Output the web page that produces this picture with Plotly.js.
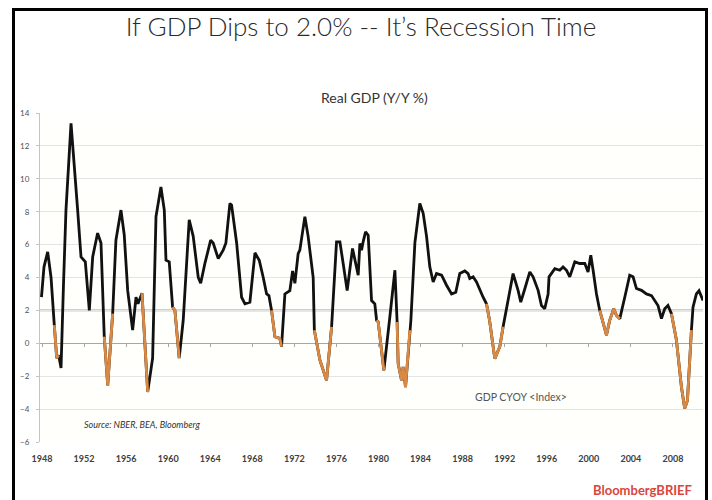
<!DOCTYPE html>
<html>
<head>
<meta charset="utf-8">
<script src="https://cdn.plot.ly/plotly-3.0.1.min.js"></script>
<style>
  html, body { margin: 0; padding: 0; background: #ffffff; }
  #wrap { position: relative; width: 712px; height: 500px; overflow: hidden; }
  #chart { position: absolute; left: 0; top: 0; width: 712px; height: 500px; }
  #frame { position: absolute; left: 12px; top: 8px; width: 696px; height: 600px;
           border: 3px solid #000; box-sizing: border-box; pointer-events: none; }
</style>
</head>
<body>
<div id="wrap">
  <div id="chart"></div>
  <div id="frame"></div>
</div>
<script>
// ---- data ----
const years = [
  1947.95,1948.19,1948.54,1948.86,1949.17,1949.40,1949.59,1949.81,1950.04,1950.28,
  1950.76,1951.07,1951.39,1951.71,1952.12,1952.50,1952.82,1953.29,1953.61,1953.92,
  1954.25,1954.72,1955.03,1955.51,1955.82,1956.15,1956.62,1956.94,1957.13,1957.51,
  1958.05,1958.52,1958.84,1959.31,1959.63,1959.79,1960.10,1960.42,1960.64,1961.05,
  1961.43,1962.00,1962.38,1962.86,1963.09,1963.49,1964.04,1964.28,1964.76,1965.23,
  1965.49,1965.87,1966.03,1966.51,1966.98,1967.30,1967.77,1968.25,1968.66,1969.04,
  1969.36,1969.58,1969.83,1970.15,1970.62,1970.78,1971.10,1971.57,1971.83,1972.05,
  1972.36,1972.52,1973.00,1973.31,1973.64,1973.79,1973.90,1974.43,1975.06,1975.54,
  1976.01,1976.33,1976.64,1977.02,1977.53,1977.75,1978.07,1978.23,1978.39,1978.54,
  1978.77,1979.02,1979.34,1979.65,1979.82,1979.97,1980.51,1981.08,1981.56,1981.77,
  1981.87,1982.19,1982.34,1982.57,1982.98,1983.08,1983.46,1983.93,1984.25,1984.57,
  1984.88,1985.20,1985.52,1986.00,1986.47,1986.95,1987.35,1987.73,1988.21,1988.52,
  1988.68,1989.00,1989.32,1989.63,1989.95,1990.27,1990.56,1991.06,1991.54,1991.85,
  1992.33,1992.80,1993.28,1993.53,1993.91,1994.39,1994.70,1995.18,1995.50,1995.81,
  1996.13,1996.22,1996.77,1997.24,1997.55,1997.88,1998.19,1998.67,1999.14,1999.62,
  1999.93,2000.19,2000.41,2000.73,2001.04,2001.52,2001.68,2001.99,2002.37,2002.63,
  2002.95,2003.42,2003.89,2004.21,2004.53,2005.01,2005.48,2005.96,2006.27,2006.58,
  2006.91,2007.22,2007.53,2007.86,2008.33,2008.81,2009.12,2009.38,2009.76,2009.91,
  2010.23,2010.48,2010.86
];
const gdpYoY = [
  2.8,4.65,5.56,4.0,1.1,-0.9,-0.73,-1.5,3.5,8.1,
  13.37,10.5,8.1,5.25,4.95,2.0,5.25,6.7,6.1,0.4,
  -2.56,1.8,6.27,8.1,6.6,3.2,0.8,2.8,2.4,3.04,
  -2.96,-0.9,7.7,9.5,8.1,5.05,4.95,2.2,2.0,-0.9,
  1.4,7.5,6.5,4.0,3.65,4.85,6.27,6.1,5.15,5.66,
  6.1,8.5,8.4,6.1,2.8,2.4,2.5,5.5,5.05,4.0,
  3.0,2.9,2.0,0.4,0.3,-0.2,3.0,3.2,4.4,3.65,
  5.45,5.66,7.7,6.5,4.65,4.0,0.8,-1.03,-2.25,1.0,
  6.17,6.17,4.85,3.2,5.76,5.15,4.14,6.07,5.66,6.17,
  6.77,6.57,2.6,2.4,1.4,1.3,-1.64,1.6,4.44,1.3,
  -1.24,-2.25,-1.44,-2.66,0.8,1.4,6.1,8.5,7.9,6.5,
  4.65,3.73,4.24,4.14,3.53,3.0,3.1,4.24,4.4,4.24,
  3.94,4.04,3.73,3.22,2.8,2.4,1.4,-0.93,-0.2,1.0,
  2.6,4.24,3.2,2.5,3.3,4.34,4.04,3.22,2.3,2.1,
  3.0,4.04,4.54,4.44,4.64,4.44,4.04,4.95,4.85,4.85,
  4.34,5.36,4.44,3.0,2.0,0.8,0.5,1.4,2.1,1.7,
  1.5,2.8,4.14,4.04,3.33,3.22,3.0,2.9,2.6,2.3,
  1.5,2.1,2.3,1.8,0.2,-2.66,-3.97,-3.47,0.8,2.2,
  3.0,3.2,2.6
];
// recession windows (orange segments), decimal years
const recessionStart = [1949.10,1953.70,1957.40,1960.20,1969.70,1973.85,1979.80,1981.70,1990.20,2000.95,2007.80];
const recessionEnd   = [1949.65,1954.75,1958.10,1961.10,1970.80,1975.55,1980.60,1983.00,1991.86,2002.96,2009.80];
const threshold = 2.0;
const xTickVals = [1948,1952,1956,1960,1964,1968,1972,1976,1980,1984,1988,1992,1996,2000,2004,2008];
const xTickText = ['1948','1952','1956','1960','1964','1968','1972','1976','1980','1984','1988','1992','1996','2000','2004','2008'];
const yTickVals = [-6,-4,-2,0,2,4,6,8,10,12,14];

// ---- build traces ----
const inRecession = t => recessionStart.some((s, i) => t >= s && t <= recessionEnd[i]);
const orangeY = gdpYoY.map((v, i) => inRecession(years[i]) ? v : null);

// plot area in pixels
const L = 40, R = 703, T = 113, B = 442;
const px2x = p => (p - L) / (R - L);
const py2y = p => (B - p) / (B - T);
const xRange = [1947.81, 2010.86];

const traces = [
  { x: years, y: gdpYoY, type: 'scatter', mode: 'lines',
    line: { color: '#111111', width: 2.8 }, hoverinfo: 'skip' },
  { x: years, y: orangeY, type: 'scatter', mode: 'lines', connectgaps: false,
    line: { color: '#d98943', width: 2.8 }, hoverinfo: 'skip' },
  { x: [], y: [], xaxis: 'x2', yaxis: 'y', type: 'scatter', mode: 'lines', hoverinfo: 'skip' }
];

const layout = {
  width: 712, height: 500,
  margin: { l: L, r: 712 - R, t: T, b: 500 - B, pad: 0 },
  paper_bgcolor: '#ffffff',
  plot_bgcolor: '#fffffb',
  showlegend: false,
  font: { family: 'Lato, "Open Sans", sans-serif', color: '#333' },
  title: {
    text: 'If GDP Dips to 2.0% -- It\u2019s Recession Time',
    font: { family: 'Lato, sans-serif', size: 26, color: '#2a2a2a', weight: 300 },
    xref: 'container', x: 0.507, xanchor: 'center',
    yref: 'container', y: 1 - 27 / 500, yanchor: 'middle'
  },
  xaxis: {
    range: xRange, tickmode: 'array', tickvals: xTickVals, ticktext: xTickText,
    showgrid: false, zeroline: false, showline: false, ticks: '',
    tickfont: { size: 9, color: '#404040', family: 'Lato, sans-serif', weight: 'bold' },
    ticklabelstandoff: 10
  },
  xaxis2: {
    overlaying: 'x', anchor: 'free', position: 0.3, side: 'bottom',
    range: xRange, tickmode: 'array', tickvals: xTickVals,
    showticklabels: false, showgrid: false, zeroline: false,
    showline: true, linecolor: '#a6a6a6', linewidth: 1,
    ticks: 'outside', ticklen: 3, tickcolor: '#a6a6a6', layer: 'below traces'
  },
  yaxis: {
    range: [-6, 14], tickmode: 'array', tickvals: yTickVals,
    showgrid: true, gridcolor: '#e4e4e4', gridwidth: 1,
    zeroline: false, showline: true, linecolor: '#c4c4c4',
    ticks: 'outside', ticklen: 3, tickcolor: '#c4c4c4',
    tickfont: { size: 8, color: '#505050', family: 'Lato, sans-serif' },
    ticklabelstandoff: 5
  },
  shapes: [
    { type: 'line', xref: 'paper', x0: 0, x1: 1, yref: 'y', y0: threshold, y1: threshold,
      line: { color: '#94a0ab', width: 1.6 }, layer: 'below' }
  ],
  annotations: [
    { text: 'Real GDP (Y/Y %)', xref: 'paper', yref: 'paper', x: px2x(374), y: py2y(97),
      xanchor: 'center', yanchor: 'middle', showarrow: false,
      font: { size: 14, color: '#333', family: 'Lato, sans-serif' } },
    { text: '<i>Source: NBER, BEA, Bloomberg</i>', xref: 'paper', yref: 'paper',
      x: px2x(82), y: py2y(424), xanchor: 'left', yanchor: 'middle', showarrow: false,
      font: { size: 9, color: '#333', family: 'Lato, sans-serif' } },
    { text: 'GDP CYOY &lt;Index&gt;', xref: 'paper', yref: 'paper',
      x: px2x(473), y: py2y(397), xanchor: 'left', yanchor: 'middle', showarrow: false,
      font: { size: 10.5, color: '#555', family: 'Lato, sans-serif' } },
    { text: '<b>BloombergBRIEF</b>', xref: 'paper', yref: 'paper',
      x: px2x(694), y: py2y(490), xanchor: 'right', yanchor: 'middle', showarrow: false,
      font: { size: 13, color: '#d9453d', family: 'Lato, sans-serif' } }
  ]
};

Plotly.newPlot('chart', traces, layout, { staticPlot: true, displayModeBar: false });
</script>
</body>
</html>
